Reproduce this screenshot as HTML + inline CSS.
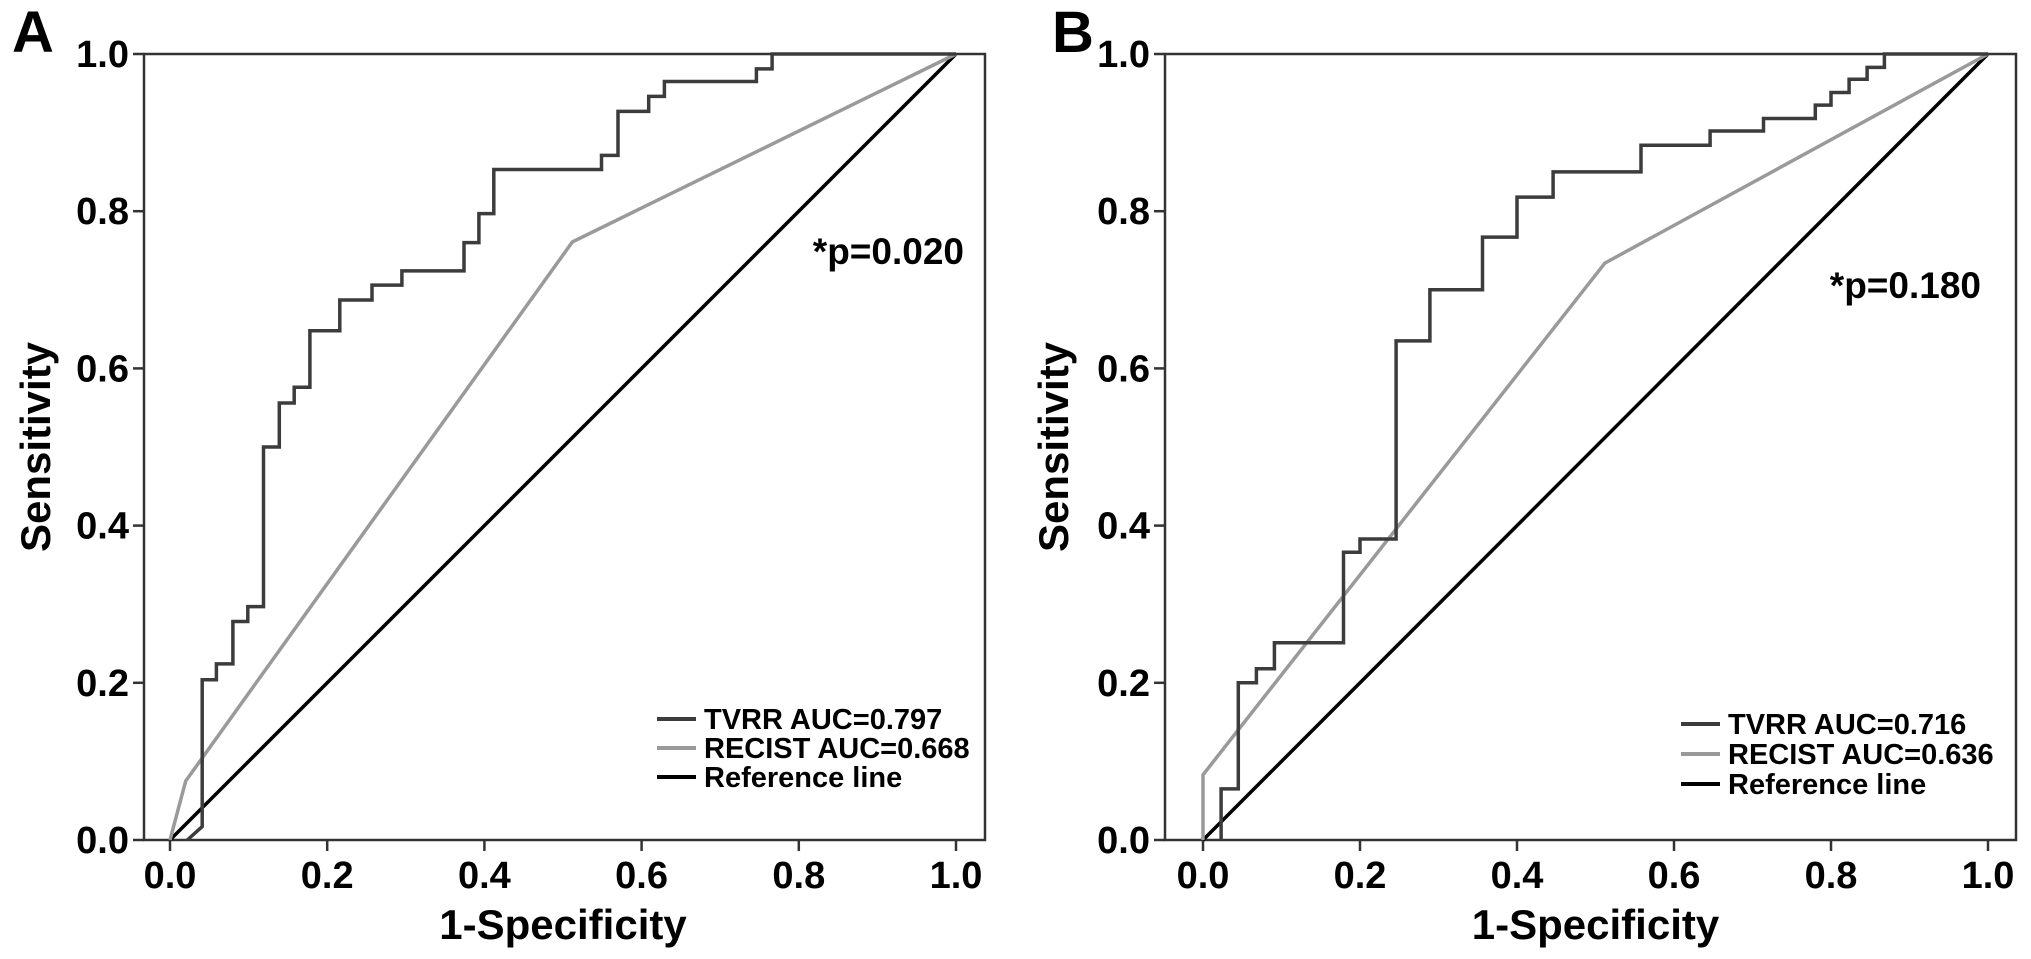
<!DOCTYPE html>
<html><head><meta charset="utf-8"><style>
html,body{margin:0;padding:0;background:#fff;}
svg{display:block;font-family:"Liberation Sans",Arial,sans-serif;font-weight:bold;}
</style></head>
<body>
<svg id="chart" width="2031" height="959" viewBox="0 0 2031 959" xmlns="http://www.w3.org/2000/svg">
<rect width="2031" height="959" fill="#fff"/>
</svg>
<script>
// ---- Panel A data ----
const aTvrrX = [0.022,0.041,0.041,0.059,0.059,0.080,0.080,0.099,0.099,0.119,0.119,0.139,0.139,0.158,0.158,0.178,0.178,0.216,0.216,0.257,0.257,0.295,0.295,0.374,0.374,0.393,0.393,0.412,0.412,0.549,0.549,0.570,0.570,0.609,0.609,0.629,0.629,0.746,0.746,0.766,0.766,1.0];
const aTvrrY = [0,0.017,0.204,0.204,0.224,0.224,0.278,0.278,0.297,0.297,0.5,0.5,0.556,0.556,0.576,0.576,0.648,0.648,0.687,0.687,0.706,0.706,0.724,0.724,0.760,0.760,0.797,0.797,0.853,0.853,0.871,0.871,0.927,0.927,0.946,0.946,0.965,0.965,0.981,0.981,1.0,1.0];
const aRecistX = [0,0.02,0.512,1];
const aRecistY = [0,0.075,0.761,1];
const aLegend = ["TVRR AUC=0.797","RECIST AUC=0.668","Reference line"];
const aPval = "*p=0.020";
// ---- Panel B data ----
const bTvrrX = [0.023,0.023,0.045,0.045,0.068,0.068,0.091,0.091,0.179,0.179,0.200,0.200,0.246,0.246,0.289,0.289,0.356,0.356,0.400,0.400,0.446,0.446,0.558,0.558,0.646,0.646,0.714,0.714,0.780,0.780,0.800,0.800,0.823,0.823,0.846,0.846,0.868,0.868,1.0];
const bTvrrY = [0,0.065,0.065,0.200,0.200,0.218,0.218,0.251,0.251,0.366,0.366,0.383,0.383,0.635,0.635,0.700,0.700,0.767,0.767,0.818,0.818,0.850,0.850,0.884,0.884,0.902,0.902,0.918,0.918,0.935,0.935,0.951,0.951,0.968,0.968,0.983,0.983,1.0,1.0];
const bRecistX = [0,0,0.512,1];
const bRecistY = [0,0.083,0.734,1];
const bLegend = ["TVRR AUC=0.716","RECIST AUC=0.636","Reference line"];
const bPval = "*p=0.180";
// shared
const refX = [0,1];
const refY = [0,1];
const tickVals = [0,0.2,0.4,0.6,0.8,1.0];
const tickLabels = ["0.0","0.2","0.4","0.6","0.8","1.0"];

const svg = document.getElementById('chart');
const NS = 'http://www.w3.org/2000/svg';
function mk(tag, attrs, parent){
  const e = document.createElementNS(NS, tag);
  for (const k in attrs) e.setAttribute(k, attrs[k]);
  parent.appendChild(e);
  return e;
}
function panel(cfg){
  const g = mk('g', {}, svg);
  
  
  const sx = v => cfg.x0 + v*(cfg.x1-cfg.x0);
  const sy = v => cfg.y0 - v*(cfg.y0-cfg.y1);
  const frame = mk('rect', {x:cfg.bl, y:cfg.y1, width:cfg.br-cfg.bl, height:cfg.y0-cfg.y1, fill:'none', stroke:'#333', 'stroke-width':2.5}, g);
  
  
  tickVals.forEach((v,i)=>{
    const yt = mk('line', {x1:cfg.bl-11, x2:cfg.bl, y1:sy(v), y2:sy(v), stroke:'#333','stroke-width':2.5}, g);
    
    
    const yl = mk('text', {x:cfg.bl-15, y:sy(v)+13, 'text-anchor':'end','font-size':38, fill:'#000'}, g);
    yl.textContent = tickLabels[i];
    
    
    const xt = mk('line', {x1:sx(v), x2:sx(v), y1:cfg.y0, y2:cfg.y0+11, stroke:'#333','stroke-width':2.5}, g);
    
    
    const xl = mk('text', {x:sx(v), y:cfg.y0+48, 'text-anchor':'middle','font-size':38, fill:'#000'}, g);
    xl.textContent = tickLabels[i];
    
    
  });
  function line(xs, ys, color, name){
    const pts = xs.map((x,i)=>sx(x).toFixed(1)+','+sy(ys[i]).toFixed(1)).join(' ');
    const p = mk('polyline', {points:pts, fill:'none', stroke:color, 'stroke-width':3.5, 'stroke-linejoin':'miter'}, g);
    
    
  }
  line(refX, refY, '#000', 'reference-line');
  line(cfg.rx, cfg.ry, '#9a9a9a', 'recist-curve');
  line(cfg.tx, cfg.ty, '#3c3c3c', 'tvrr-curve');
  const lab = mk('text', {x:cfg.labX, y:52, 'font-size':58, fill:'#000'}, g);
  lab.textContent = cfg.letter;
  
  
  const xt = mk('text', {x:(cfg.x0+cfg.x1)/2, y:939, 'text-anchor':'middle','font-size':42, fill:'#000'}, g);
  xt.textContent = '1-Specificity';
  
  
  const yt = mk('text', {x:0, y:0, 'text-anchor':'middle','font-size':42, fill:'#000', transform:`translate(${cfg.ytX},${(cfg.y0+cfg.y1)/2}) rotate(-90)`}, g);
  yt.textContent = 'Sensitivity';
  
  
  const pv = mk('text', {x:cfg.pX, y:cfg.pY, 'text-anchor':'end','font-size':37, fill:'#000'}, g);
  pv.textContent = cfg.p;
  
  
  const colors = ['#3c3c3c','#9a9a9a','#000'];
  cfg.legend.forEach((t,i)=>{
    const ly = cfg.legY + i*cfg.legDy;
    const ll = mk('line', {x1:cfg.legX, x2:cfg.legX+39, y1:ly, y2:ly, stroke:colors[i], 'stroke-width':4}, g);
    
    
    const lt = mk('text', {x:cfg.legX+47, y:ly+10, 'font-size':29, fill:'#000'}, g);
    lt.textContent = t;
    
    
  });
}
panel({name:'panel-a', letter:'A', labX:12, x0:170, x1:956, bl:144, br:985, y0:840, y1:54,
  tx:aTvrrX, ty:aTvrrY, rx:aRecistX, ry:aRecistY, legend:aLegend, p:aPval, pX:964, pY:264,
  legX:657, legY:719, legDy:29, ytX:50});
panel({name:'panel-b', letter:'B', labX:1052, x0:1203, x1:1988, bl:1165, br:2016, y0:840, y1:54,
  tx:bTvrrX, ty:bTvrrY, rx:bRecistX, ry:bRecistY, legend:bLegend, p:bPval, pX:1981, pY:298,
  legX:1681, legY:724, legDy:30, ytX:1068});
</script>
</body></html>
